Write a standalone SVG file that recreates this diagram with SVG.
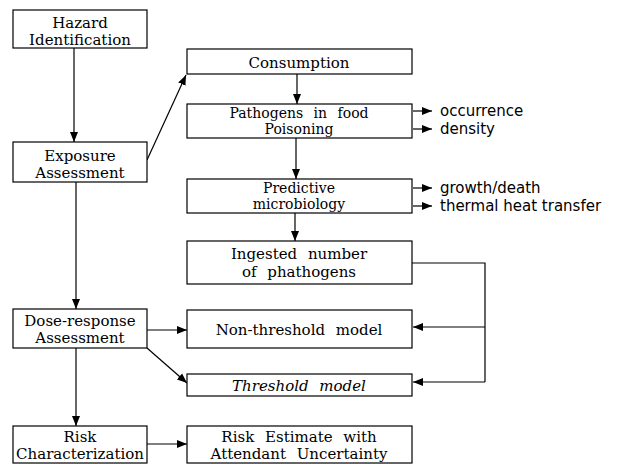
<svg xmlns="http://www.w3.org/2000/svg" width="621" height="464" viewBox="0 0 621 464">
<defs>
<marker id="ah" viewBox="0 0 10 10" refX="10" refY="5" markerWidth="10" markerHeight="10" markerUnits="userSpaceOnUse" orient="auto">
<path d="M0,1 L10,5 L0,9 Z" fill="#000"/>
</marker>
</defs>
<style>
.box{fill:#fff;stroke:#000;stroke-width:1.2}
.t{font-family:"DejaVu Serif",serif;font-size:15px;fill:#000;text-anchor:middle;word-spacing:6px}
.tt{font-size:14px}
.s{font-family:"DejaVu Sans",sans-serif;font-size:15px;fill:#000}
.c{fill:none;stroke:#000;stroke-width:1.2}
.ca{fill:none;stroke:#000;stroke-width:1.2;marker-end:url(#ah)}
</style>
<rect width="621" height="464" fill="#fff"/>
<g id="connectors">
<path class="ca" d="M74,48 L74,142"/>
<path class="ca" d="M147,160 L186,75"/>
<path class="ca" d="M297,74 L297,104"/>
<path class="ca" d="M296,138 L296,179"/>
<path class="ca" d="M295,213 L295,241"/>
<path class="ca" d="M76,182 L76,309"/>
<path class="ca" d="M147,330 L187,330"/>
<path class="ca" d="M147,348 L187,383"/>
<path class="ca" d="M76,348 L76,426"/>
<path class="ca" d="M147,444 L187,444"/>
<path class="c" d="M412,263 L485,263 L485,382"/>
<path class="ca" d="M485,327 L413,327"/>
<path class="ca" d="M485,382 L413,382"/>
<path class="ca" d="M413,111 L432,111"/>
<path class="ca" d="M413,129 L432,129"/>
<path class="ca" d="M413,188 L432,188"/>
<path class="ca" d="M413,206 L432,206"/>
</g>
<g id="hazard"><rect class="box" x="13" y="10" width="134" height="38"/><text class="t" x="80" y="28">Hazard</text><text class="t" x="80" y="45">Identification</text></g>
<g id="exposure"><rect class="box" x="13" y="142" width="134" height="40"/><text class="t" x="80" y="161">Exposure</text><text class="t" x="80" y="178">Assessment</text></g>
<g id="dose"><rect class="box" x="13" y="309" width="134" height="39"/><text class="t" x="80" y="326">Dose-response</text><text class="t" x="80" y="343">Assessment</text></g>
<g id="riskchar"><rect class="box" x="13" y="426" width="134" height="37"/><text class="t" x="80" y="442">Risk</text><text class="t" x="80" y="459">Characterization</text></g>
<g id="consumption"><rect class="box" x="187" y="49" width="225" height="25"/><text class="t" x="299" y="68">Consumption</text></g>
<g id="pathogens"><rect class="box" x="187" y="104" width="225" height="34"/><text class="t tt" x="299" y="118">Pathogens in food</text><text class="t tt" x="299" y="134">Poisoning</text></g>
<g id="predictive"><rect class="box" x="187" y="179" width="225" height="34"/><text class="t tt" x="299" y="193">Predictive</text><text class="t tt" x="299" y="209">microbiology</text></g>
<g id="ingested"><rect class="box" x="187" y="241" width="225" height="43"/><text class="t" x="299" y="259">Ingested number</text><text class="t" x="299" y="277">of phathogens</text></g>
<g id="nonthreshold"><rect class="box" x="187" y="310" width="225" height="38"/><text class="t" x="299" y="335">Non-threshold model</text></g>
<g id="threshold"><rect class="box" x="187" y="374" width="225" height="22"/><text class="t" x="299" y="391" font-style="italic">Threshold model</text></g>
<g id="riskest"><rect class="box" x="187" y="426" width="225" height="37"/><text class="t" x="299" y="442">Risk Estimate with</text><text class="t" x="299" y="459">Attendant Uncertainty</text></g>
<g id="labels">
<text class="s" x="440" y="116">occurrence</text>
<text class="s" x="440" y="134">density</text>
<text class="s" x="440" y="193">growth/death</text>
<text class="s" x="440" y="211">thermal heat transfer</text>
</g>
</svg>
